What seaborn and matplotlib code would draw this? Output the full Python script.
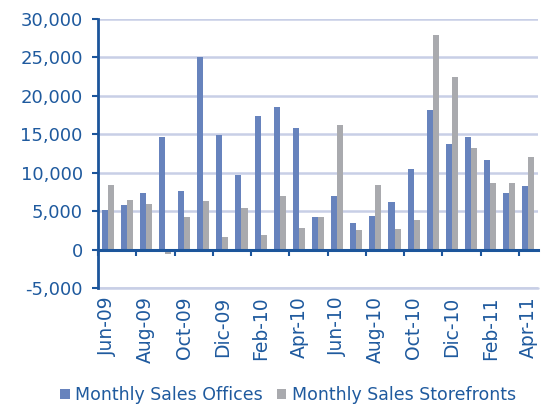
import numpy as np
import pandas as pd
import matplotlib
matplotlib.use("Agg")
import matplotlib.pyplot as plt
import seaborn as sns
from matplotlib.ticker import FuncFormatter

months = ["Jun-09", "Jul-09", "Aug-09", "Sep-09", "Oct-09", "Nov-09", "Dic-09",
          "Jan-10", "Feb-10", "Mar-10", "Apr-10", "May-10", "Jun-10", "Jul-10",
          "Aug-10", "Sep-10", "Oct-10", "Nov-10", "Dic-10", "Jan-11", "Feb-11",
          "Mar-11", "Apr-11"]
offices = [5200, 5800, 7300, 14600, 7600, 25000, 14900, 9700, 17400, 18500, 15800,
           4300, 7000, 3400, 4400, 6200, 10500, 18200, 13700, 14600, 11600, 7400, 8300]
storefronts = [8400, 6500, 5900, -600, 4300, 6300, 1600, 5400, 1900, 7000, 2800,
               4200, 16200, 2600, 8400, 2700, 3900, 27900, 22500, 13200, 8600, 8600, 12000]
series_names = ["Monthly Sales Offices", "Monthly Sales Storefronts"]
tick_labels = months[::2]

text_col = "#1f5a9e"
axis_col = "#1c559b"
grid_col = "#c8cfe6"
colors = ["#6783bd", "#a9aaae"]

df = pd.DataFrame({
    "Month": months * 2,
    "Series": [series_names[0]] * len(months) + [series_names[1]] * len(months),
    "Sales": offices + storefronts,
})

sns.set_style("white")
plt.rcParams["font.family"] = ["DejaVu Sans"]

fig = plt.figure(figsize=(5.55, 4.12), dpi=100)
ax = fig.add_axes([98 / 555, 1 - 288 / 412, 440 / 555, 269 / 412])

sns.barplot(data=df, x="Month", y="Sales", hue="Series", order=months,
            hue_order=series_names, palette=colors, width=0.63, saturation=1,
            linewidth=0, ax=ax)

ax.set_ylim(-5000, 30000)
ax.set_xlim(-0.5, len(months) - 0.5)
ax.set_yticks(np.arange(-5000, 30001, 5000))
ax.yaxis.set_major_formatter(FuncFormatter(lambda v, p: f"{int(v):,}"))
ax.yaxis.grid(True, color=grid_col, linewidth=1.8)
ax.axhline(-5000, color=grid_col, linewidth=1.8, clip_on=False, zorder=0)
ax.set_axisbelow(True)
ax.set_xlabel("")
ax.set_ylabel("")

for s in ["top", "right"]:
    ax.spines[s].set_visible(False)
ax.spines["left"].set_color(axis_col)
ax.spines["left"].set_linewidth(2)
ax.spines["left"].set_zorder(4)
ax.spines["bottom"].set_position(("data", 0))
ax.spines["bottom"].set_color(axis_col)
ax.spines["bottom"].set_linewidth(2.2)
ax.spines["bottom"].set_zorder(3)

ax.tick_params(axis="y", colors=text_col, labelsize=13, length=4, width=1.5,
               direction="out", pad=7, left=True)
ax.tick_params(axis="y", color=axis_col)

# category boundary ticks on the zero line
ax.set_xticks(np.arange(-0.5, len(months), 2))
ax.set_xticklabels([])
ax.tick_params(axis="x", length=4, width=1.5, color=axis_col, direction="out", bottom=True)

# month labels along the bottom edge
sec = ax.secondary_xaxis("bottom")
sec.set_xticks(range(0, len(months), 2))
sec.set_xticklabels(tick_labels, rotation=90)
sec.tick_params(axis="x", length=0, pad=6, labelsize=13.5, colors=text_col)
sec.spines["bottom"].set_visible(False)

handles, labels = ax.get_legend_handles_labels()
ax.legend_.remove()
fig.legend(handles, labels, loc="center", bbox_to_anchor=(288 / 555, 1 - 395 / 412),
           ncol=2, frameon=False, fontsize=12.5, handlelength=0.55, handleheight=0.55,
           handletextpad=0.3, columnspacing=0.8, labelcolor=text_col,
           borderpad=0, borderaxespad=0)

fig.savefig("out.png", dpi=100)
